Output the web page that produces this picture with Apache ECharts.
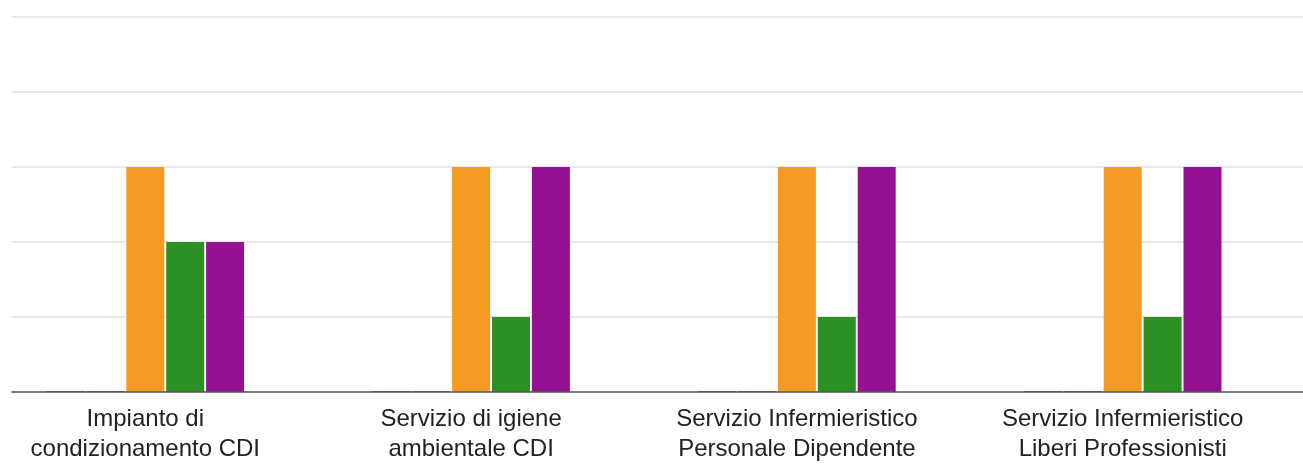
<!DOCTYPE html>
<html><head><meta charset="utf-8">
<script src="https://cdn.jsdelivr.net/npm/echarts@6/dist/echarts.min.js"></script>
<style>html,body{margin:0;padding:0;background:#fff}#c{width:1303px;height:465px}</style>
</head><body><div id="c"></div>
<script>
const categories = ["Impianto di\ncondizionamento CDI", "Servizio di igiene\nambientale CDI", "Servizio Infermieristico\nPersonale Dipendente", "Servizio Infermieristico\nLiberi Professionisti"];
const seriesA = [0, 0, 0, 0];
const seriesB = [0, 0, 0, 0];
const seriesC = [3, 3, 3, 3];
const seriesD = [2, 1, 1, 1];
const seriesE = [2, 3, 3, 3];
const colors = ["#3366cc", "#dc3912", "#f59b23", "#2c9124", "#951093"];

const chart = echarts.init(document.getElementById('c'));
function bar(data, i, minH) {
  return {type: 'bar', xAxisIndex: 1, yAxisIndex: 1, data: data, barWidth: 38, barGap: '5%',
    barMinHeight: minH, itemStyle: {color: colors[i]}, animation: false};
}
chart.setOption({
  animation: false,
  grid: [
    {left: 12, right: 0, top: 17, bottom: 73, outerBoundsMode: 'none'},
    {left: -17.6, width: 1303.2, top: 17, bottom: 73, outerBoundsMode: 'none', containLabel: false}
  ],
  xAxis: [
    {gridIndex: 0, type: 'value', min: 0, max: 1, z: 10,
     axisLine: {show: true, onZero: false, lineStyle: {color: '#555', width: 2, opacity: 0.75}},
     axisTick: {show: false}, axisLabel: {show: false}, splitLine: {show: false}},
    {gridIndex: 1, type: 'category', data: categories,
     axisLine: {show: false}, axisTick: {show: false},
     axisLabel: {color: '#222', fontFamily: 'Liberation Sans, Arial, sans-serif', fontSize: 24, lineHeight: 30, margin: 12, interval: 0}}
  ],
  yAxis: [
    {gridIndex: 0, type: 'value', min: 0, max: 5, interval: 1,
     axisLine: {show: false}, axisTick: {show: false}, axisLabel: {show: false},
     splitLine: {lineStyle: {color: '#e8e8e8', width: 2}}},
    {gridIndex: 1, type: 'value', min: 0, max: 5, interval: 1, show: false, splitLine: {show: false}}
  ],
  series: [
    bar(seriesA, 0, 1), bar(seriesB, 1, 1), bar(seriesC, 2, 0), bar(seriesD, 3, 0), bar(seriesE, 4, 0)
  ]
});
</script></body></html>
